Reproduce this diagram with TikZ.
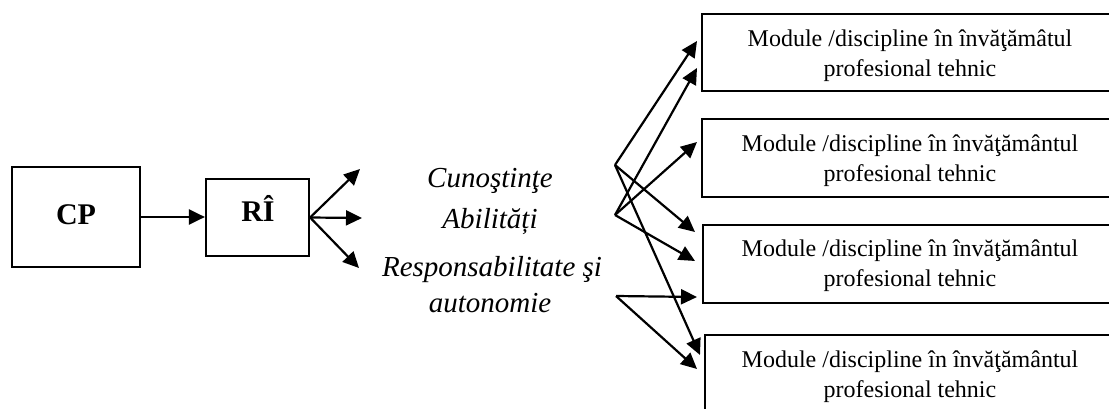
\documentclass[tikz,border=0pt]{standalone}
\usepackage{fontspec}
\setmainfont{Liberation Serif}
\usetikzlibrary{arrows.meta,calc}
\begin{document}
\begin{tikzpicture}[x=1pt,y=-1pt,
  box/.style={draw, line width=2.2pt, inner sep=0pt},
  arr/.style={line width=2.2pt, -{Triangle[length=16pt,width=15pt]}},
  lbl/.style={font=\fontsize{30}{34}\selectfont\bfseries, inner sep=0pt, anchor=base},
  itx/.style={font=\fontsize{29}{34}\selectfont\itshape, inner sep=0pt, anchor=base},
  mtx/.style={font=\fontsize{24}{30}\selectfont, align=center, inner sep=0pt}]
\useasboundingbox (0,0) rectangle (1109,409);
% left boxes
\node[box, minimum width=128pt, minimum height=100pt] (cp) at (76,217) {};
\node[box, minimum width=103pt, minimum height=77pt] (ri) at (257.5,217.5) {};
\node[lbl] (cpt) at (76,224) {CP};
\node[lbl] (rit) at (258,221) {RÎ};
\draw[arr] (cp.east) -- (ri.west |- cp.east);
% fan from RI
\coordinate (k1) at (360,169);
\coordinate (k2) at (362,218);
\coordinate (k3) at (359,268);
\draw[arr] (ri.east) -- (k1);
\draw[arr] (ri.east) -- (k2);
\draw[arr] (ri.east) -- (k3);
% italic texts
\node[itx] (cun) at (490,187) {Cunoştinţe};
\node[itx] (abi) at (490,229) {Abilități};
\node[itx] (res) at (492,276) {Responsabilitate şi};
\node[itx] (aut) at (490,312) {autonomie};
% module boxes
\node[box, anchor=north west, minimum width=440pt, minimum height=77pt] (m1) at (701,13) {};
\node[box, anchor=north west, minimum width=440pt, minimum height=78pt] (m2) at (701,118) {};
\node[box, anchor=north west, minimum width=440pt, minimum height=78pt] (m3) at (702,224) {};
\node[box, anchor=north west, minimum width=440pt, minimum height=90pt] (m4) at (704,334) {};
\node[mtx] (t1) at (910,56) {Module /discipline în învăţămâtul\\profesional tehnic};
\node[mtx] (t2) at (910,161) {Module /discipline în învăţământul\\profesional tehnic};
\node[mtx] (t3) at (910,266) {Module /discipline în învăţământul\\profesional tehnic};
\node[mtx] (t4) at (910,377) {Module /discipline în învăţământul\\profesional tehnic};
% fan origins
\coordinate (fa) at (615,165);
\coordinate (fb) at (615,215);
\coordinate (fc) at (616,296);
\draw[arr] (fa) -- ($(m1.north west)+(-4,28)$);
\draw[arr] (fa) -- ($(m3.north west)+(-7,8)$);
\draw[arr] (fa) -- ($(m4.north west)+(-4,21)$);
\draw[arr] (fb) -- ($(m1.north west)+(-4,55)$);
\draw[arr] (fb) -- ($(m2.north west)+(-4,24)$);
\draw[arr] (fb) -- ($(m3.north west)+(-7,37)$);
\draw[arr] (fc) -- ($(m3.north west)+(-5,73)$);
\draw[arr] (fc) -- ($(m4.north west)+(-7,35)$);
\end{tikzpicture}
\end{document}
